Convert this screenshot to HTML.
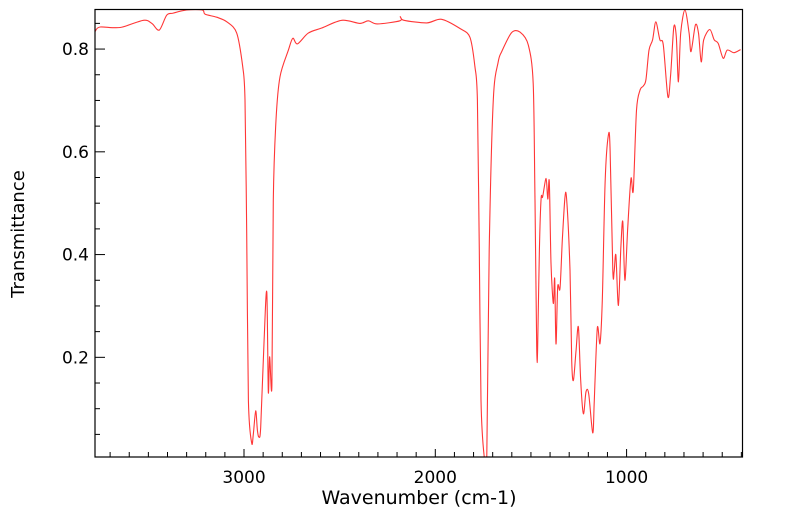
<!DOCTYPE html>
<html><head><meta charset="utf-8"><style>
html,body{margin:0;padding:0;background:#fff;}
svg{display:block;font-family:"DejaVu Sans","Liberation Sans",sans-serif;}
</style></head><body>
<svg id="chart" width="799" height="516" viewBox="0 0 799 516">
<defs><clipPath id="plotclip"><rect x="95" y="9.5" width="647.5" height="447.5"/></clipPath></defs>
<g id="axes"></g>
<path id="spectrum" clip-path="url(#plotclip)" fill="none" stroke="#ff2020" stroke-width="1.1" stroke-opacity="0.9" stroke-linejoin="round"></path>
<rect x="95" y="9.5" width="647.5" height="447.5" fill="none" stroke="#000" stroke-width="1.2"/>
<text x="419" y="504" text-anchor="middle" font-size="19">Wavenumber (cm-1)</text>
<text transform="translate(24,234) rotate(-90)" text-anchor="middle" font-size="18">Transmittance</text>
</svg>
<script>
const wavenumbers=[3779,3753,3648,3526,3482,3443,3404,3370,3300,3218,3204,3143,3090,3038,3007,2995,2986,2977,2960,2951,2939,2930,2922,2913,2895,2881,2873,2866,2854,2847,2833,2812,2768,2745,2721,2664,2594,2489,2394,2350,2303,2185,2183,2164,2045,1967,1871,1819,1793,1780,1770,1761,1745,1731,1718,1697,1671,1653,1601,1557,1514,1488,1479,1470,1465,1456,1447,1439,1421,1412,1404,1395,1383,1376,1369,1360,1348,1336,1322,1313,1296,1287,1278,1264,1252,1240,1226,1212,1198,1177,1169,1153,1139,1127,1112,1095,1086,1072,1065,1056,1043,1030,1020,1009,994,977,965,948,930,913,899,883,864,847,826,808,784,770,753,740,729,717,695,673,663,640,624,610,597,565,542,521,495,474,439,404];
const transmittance=[0.834,0.843,0.842,0.856,0.850,0.837,0.866,0.870,0.876,0.876,0.868,0.862,0.853,0.831,0.766,0.701,0.442,0.116,0.033,0.052,0.096,0.058,0.045,0.064,0.233,0.327,0.133,0.201,0.146,0.506,0.662,0.746,0.798,0.821,0.810,0.831,0.841,0.856,0.850,0.855,0.849,0.855,0.863,0.856,0.851,0.858,0.840,0.823,0.766,0.701,0.409,0.116,0.009,0.009,0.409,0.701,0.775,0.795,0.832,0.833,0.808,0.733,0.506,0.220,0.214,0.409,0.509,0.512,0.548,0.508,0.542,0.383,0.305,0.353,0.226,0.337,0.334,0.428,0.512,0.506,0.370,0.194,0.155,0.214,0.259,0.155,0.090,0.133,0.129,0.053,0.116,0.257,0.227,0.311,0.545,0.633,0.603,0.370,0.366,0.399,0.301,0.412,0.464,0.350,0.451,0.548,0.525,0.681,0.720,0.728,0.740,0.798,0.818,0.853,0.818,0.808,0.707,0.749,0.843,0.824,0.736,0.831,0.876,0.831,0.795,0.847,0.831,0.775,0.818,0.838,0.818,0.811,0.782,0.798,0.793,0.799];
const xTickValues=[3000,2000,1000];
const xTickLabels=["3000","2000","1000"];
const yTickValues=[0.2,0.4,0.6,0.8];
const yTickLabels=["0.2","0.4","0.6","0.8"];
const X0=95,X1=742.5,Y0=9.5,Y1=457;
const WN_L=3779,WN_R=394,T_TOP=0.877,T_BOT=0.006;
function xs(w){return X0+(WN_L-w)/(WN_L-WN_R)*(X1-X0);}
function ys(t){return Y0+(T_TOP-t)/(T_TOP-T_BOT)*(Y1-Y0);}
const NS="http://www.w3.org/2000/svg";
const axes=document.getElementById('axes');
function line(x1,y1,x2,y2,name){const l=document.createElementNS(NS,'line');
l.setAttribute('x1',x1);l.setAttribute('y1',y1);l.setAttribute('x2',x2);l.setAttribute('y2',y2);
l.setAttribute('stroke','#000');l.setAttribute('stroke-width','1');


axes.appendChild(l);}
for(let w=3700;w>WN_R;w-=100){const x=xs(w);const major=(w%1000===0);line(x,Y1,x,Y1-(major?8:5),major?'x-major-tick':'x-minor-tick');}
for(let t=0.05;t<T_TOP;t+=0.05){const tt=Math.round(t*100)/100;const y=ys(tt);const major=Math.abs(tt*10-Math.round(tt*10))<1e-6&&Math.round(tt*10)%2===0;line(X0,y,X0+(major?10:5),y,major?'y-major-tick':'y-minor-tick');}
xTickValues.forEach((v,i)=>{const t=document.createElementNS(NS,'text');
t.setAttribute('x',xs(v));t.setAttribute('y',483);t.setAttribute('text-anchor','middle');t.setAttribute('font-size','17');
t.textContent=xTickLabels[i];


axes.appendChild(t);});
yTickValues.forEach((v,i)=>{const t=document.createElementNS(NS,'text');
t.setAttribute('x',89);t.setAttribute('y',ys(v)+6);t.setAttribute('text-anchor','end');t.setAttribute('font-size','17');
t.textContent=yTickLabels[i];


axes.appendChild(t);});
const pts=wavenumbers.map((w,i)=>[xs(w),ys(transmittance[i])]);
let d='M'+pts[0][0].toFixed(1)+','+pts[0][1].toFixed(1);
for(let i=0;i<pts.length-1;i++){
  const p0=pts[Math.max(i-1,0)],p1=pts[i],p2=pts[i+1],p3=pts[Math.min(i+2,pts.length-1)];
  const k=0.15;
  const c1=[p1[0]+(p2[0]-p0[0])*k,p1[1]+(p2[1]-p0[1])*k];
  const c2=[p2[0]-(p3[0]-p1[0])*k,p2[1]-(p3[1]-p1[1])*k];
  d+=' C'+c1[0].toFixed(1)+','+c1[1].toFixed(1)+' '+c2[0].toFixed(1)+','+c2[1].toFixed(1)+' '+p2[0].toFixed(1)+','+p2[1].toFixed(1);
}
document.getElementById('spectrum').setAttribute('d',d);
</script>
</body></html>
